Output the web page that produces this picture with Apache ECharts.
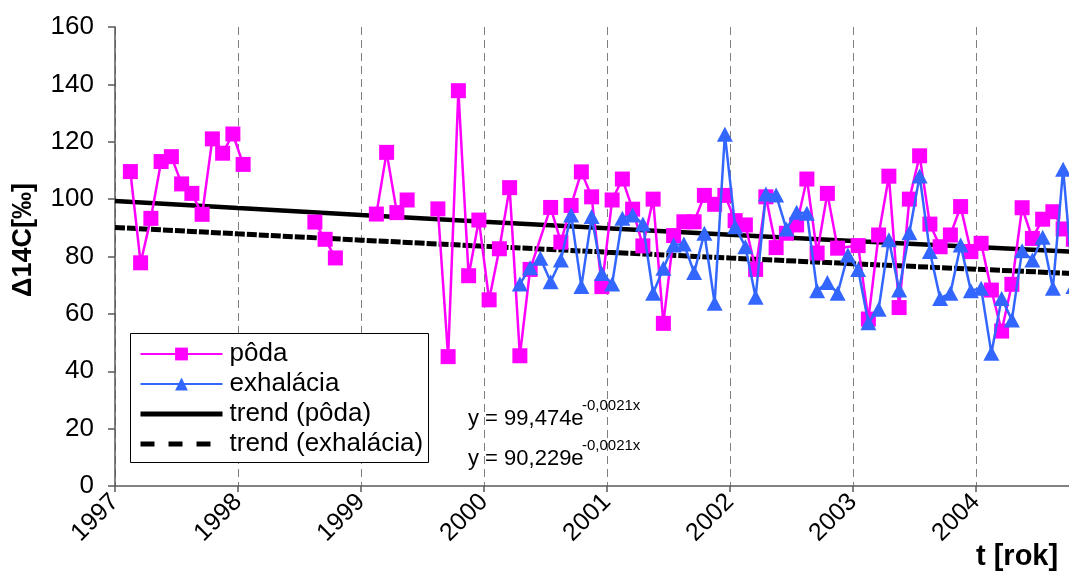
<!DOCTYPE html>
<html>
<head>
<meta charset="utf-8">
<script src="https://cdn.jsdelivr.net/npm/echarts@6/dist/echarts.min.js"></script>
<style>
  html, body { margin: 0; padding: 0; background: #fff; overflow: hidden; }
  /* the plot runs on past the right edge of the window (to early 2005) */
  #chart { width: 1099px; height: 573px; }
</style>
</head>
<body>
<div id="chart"></div>
<script>
// Year tick labels (one tick every 12 months, starting January 1997)
const yearLabels = ['1997', '1998', '1999', '2000', '2001', '2002', '2003', '2004'];

// Soil samples: month offset from Jan 1997 and Δ14C [‰]; null marks a break in the record
const podaMonths = [
  1.5, 2.5, 3.5, 4.5, 5.5, 6.5, 7.5, 8.5, 9.5, 10.5, 11.5, 12.5, 16,
  19.5, 20.5, 21.5, 23.5,
  25.5, 26.5, 27.5, 28.5, 30,
  31.5, 32.5, 33.5, 34.5, 35.5, 36.5, 37.5, 38.5, 39.5, 40.5,
  42.5, 43.5, 44.5, 45.5, 46.5, 47.5, 48.5, 49.5, 50.5, 51.5, 52.5, 53.5,
  54.5, 55.5, 56.5, 57.5, 58.5, 59.5, 60.5, 61.5, 62.5, 63.5, 64.5, 65.5,
  66.5, 67.5, 68.5, 69.5, 70.5,
  72.5, 73.5, 74.5, 75.5, 76.5, 77.5, 78.5, 79.5, 80.5, 81.5, 82.5, 83.5,
  84.5, 85.5, 86.5, 87.5, 88.5, 89.5, 90.5, 91.5, 92.5, 93.5
];
const podaValues = [
  109.6, 77.8, 93.3, 113.1, 114.8, 105.3, 102.0, 94.7, 121.0, 116.0, 122.7, 112.1, null,
  92.0, 86.0, 79.5, null,
  94.8, 116.3, 95.3, 99.7, null,
  96.6, 45.1, 137.8, 73.3, 92.7, 64.9, 82.7, 104.0, 45.4, 75.5,
  97.1, 85.0, 97.8, 109.5, 100.8, 69.5, 99.7, 107.0, 96.5, 83.7, 100.0, 56.7,
  87.3, 92.1, 92.1, 101.3, 98.2, 101.3, 92.5, 91.0, 75.5, 100.8, 83.1, 88.1,
  91.0, 107.0, 81.2, 102.0, 82.9,
  83.8, 58.2, 87.5, 108.0, 62.2, 100.0, 115.1, 91.3, 83.4, 87.5, 97.4, 81.7,
  84.6, 68.3, 54.0, 70.3, 97.0, 86.3, 93.0, 95.6, 89.6, 86.0
];

// Exhaled CO2 samples: month offset from Jan 1997 and Δ14C [‰]
const exhalaciaMonths = [
  39.5, 40.5, 41.5, 42.5, 43.5, 44.5, 45.5, 46.5, 47.5, 48.5, 49.5, 50.5,
  51.5, 52.5, 53.5, 54.5, 55.5, 56.5, 57.5, 58.5, 59.5, 60.5, 61.5, 62.5,
  63.5, 64.5, 65.5, 66.5, 67.5, 68.5, 69.5, 70.5, 71.5, 72.5, 73.5, 74.5,
  75.5, 76.5, 77.5, 78.5, 79.5, 80.5, 81.5, 82.5, 83.5, 84.5, 85.5, 86.5,
  87.5, 88.5, 89.5, 90.5, 91.5, 92.5, 93.5
];
const exhalaciaValues = [
  70.4, 76.1, 79.4, 71.2, 78.8, 94.5, 69.5, 93.9, 74.1, 70.4, 93.3, 94.5,
  91.3, 67.2, 75.9, 84.0, 84.4, 74.4, 88.1, 63.7, 122.6, 90.4, 83.4, 65.8,
  101.8, 101.4, 89.6, 95.4, 95.1, 68.1, 70.9, 67.2, 80.5, 75.5, 56.9, 61.6,
  85.8, 68.3, 88.3, 108.1, 81.7, 65.4, 67.2, 84.0, 68.1, 68.9, 46.3, 65.4,
  57.9, 82.0, 78.8, 86.7, 68.9, 110.4, 69.5
];

// Exponential trend y = a·e^(b·x) as printed on the chart (x = month index)
const trendA = [99.474, 90.229];
const trendB = [-0.0021, -0.0021];
const trendMonths = [0, 12, 24, 36, 48, 60, 72, 84, 96];

const FONT = '"Liberation Sans", Arial, sans-serif';

function pairs(xs, ys) {
  return xs.map((x, i) => [x, ys[i] == null ? '-' : ys[i]]);
}
function trend(k) {
  return trendMonths.map(m => [m, trendA[k] * Math.exp(trendB[k] * (m + 0.5))]);
}

const chart = echarts.init(document.getElementById('chart'), null, { renderer: 'canvas' });

chart.setOption({
  backgroundColor: '#ffffff',
  animation: false,
  grid: { left: 115, top: 27, bottom: 87, right: 0, containLabel: false },
  xAxis: {
    type: 'value',
    min: 0,
    max: 96,
    interval: 12,
    axisLine: { show: true, lineStyle: { color: '#595959', width: 1.5 } },
    axisTick: { show: true, length: 6, lineStyle: { color: '#595959', width: 1.5 } },
    axisLabel: {
      rotate: 45,
      margin: 12,
      fontSize: 25,
      color: '#000',
      fontFamily: FONT,
      showMaxLabel: false,
      formatter: v => yearLabels[Math.round(v / 12)] || ''
    },
    splitLine: { show: true, lineStyle: { color: '#7f7f7f', width: 1, type: [8, 5] } }
  },
  yAxis: {
    type: 'value',
    min: 0,
    max: 160,
    interval: 20,
    axisLine: { show: true, lineStyle: { color: '#595959', width: 1.5 } },
    axisTick: { show: true, length: 7, lineStyle: { color: '#595959', width: 1.5 } },
    axisLabel: { margin: 21, fontSize: 26, color: '#000', fontFamily: FONT },
    splitLine: { show: false }
  },
  legend: {
    orient: 'vertical',
    left: 138,
    top: 341,
    padding: 0,
    itemWidth: 82,
    itemHeight: 16,
    itemGap: 4,
    z: 6,
    textStyle: { fontSize: 26, color: '#000', fontFamily: FONT, padding: [0, 0, 0, 2] },
    data: [
      { name: 'pôda' },
      { name: 'exhalácia' },
      { name: 'trend (pôda)', itemStyle: { opacity: 0 }, lineStyle: { width: 5 } },
      { name: 'trend (exhalácia)', itemStyle: { opacity: 0 }, lineStyle: { width: 5, type: [14, 14] } }
    ]
  },
  graphic: [
    {
      type: 'rect', z: 5, left: 130, top: 333,
      shape: { width: 298, height: 129 },
      style: { fill: '#fff', stroke: '#000', lineWidth: 1 }
    },
    {
      type: 'text', z: 7, x: 24, y: 240, rotation: Math.PI / 2,
      style: { text: 'Δ14C[‰]', font: 'bold 27px ' + FONT, fill: '#000', align: 'center', verticalAlign: 'middle' }
    },
    { type: 'text', z: 7, left: 468, top: 408, style: { text: 'y = 99,474e', font: '22px ' + FONT, fill: '#000' } },
    { type: 'text', z: 7, left: 582, top: 398, style: { text: '-0,0021x', font: '15px ' + FONT, fill: '#000' } },
    { type: 'text', z: 7, left: 468, top: 448, style: { text: 'y = 90,229e', font: '22px ' + FONT, fill: '#000' } },
    { type: 'text', z: 7, left: 582, top: 438, style: { text: '-0,0021x', font: '15px ' + FONT, fill: '#000' } },
    { type: 'text', z: 7, left: 976, top: 542, style: { text: 't [rok]', font: 'bold 29px ' + FONT, fill: '#000' } }
  ],
  series: [
    {
      name: 'trend (pôda)',
      type: 'line',
      data: trend(0),
      symbol: 'none',
      z: 2,
      lineStyle: { color: '#000', width: 4.5 },
      itemStyle: { color: '#000' }
    },
    {
      name: 'trend (exhalácia)',
      type: 'line',
      data: trend(1),
      symbol: 'none',
      z: 2,
      lineStyle: { color: '#000', width: 5, type: [10, 2] },
      itemStyle: { color: '#000' }
    },
    {
      name: 'pôda',
      type: 'line',
      data: pairs(podaMonths, podaValues),
      connectNulls: false,
      symbol: 'rect',
      symbolSize: 15,
      showAllSymbol: true,
      z: 3,
      lineStyle: { color: '#ff00ff', width: 2.5 },
      itemStyle: { color: '#ff00ff', borderWidth: 0 }
    },
    {
      name: 'exhalácia',
      type: 'line',
      data: pairs(exhalaciaMonths, exhalaciaValues),
      symbol: 'triangle',
      symbolSize: [16, 15],
      showAllSymbol: true,
      z: 4,
      lineStyle: { color: '#3366ff', width: 2.5 },
      itemStyle: { color: '#3366ff', borderWidth: 0 }
    }
  ]
});
</script>
</body>
</html>
